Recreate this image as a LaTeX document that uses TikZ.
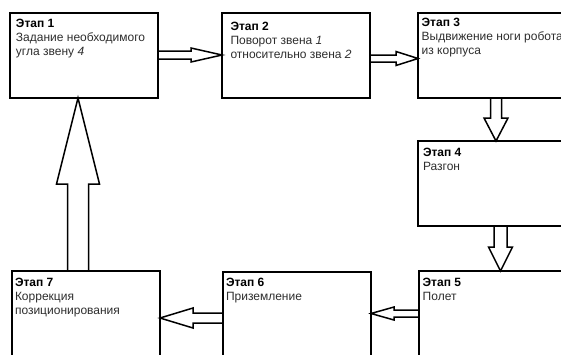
\documentclass[tikz,border=0pt]{standalone}
\usepackage{fontspec}
\setmainfont{Liberation Sans}
\usetikzlibrary{calc}
\newcommand\topstrut{\rule{0pt}{9pt}}
\newcommand\blockarr[5]{%
  \coordinate (H) at ($(#2)!#5!(#1)$);
  \draw[barrow] ($(#1)!#3!90:(#2)$) -- ($(H)!#3!-90:(#1)$) -- ($(H)!#4!-90:(#1)$)
    -- (#2) -- ($(H)!#4!90:(#1)$) -- ($(H)!#3!90:(#1)$) -- ($(#1)!#3!-90:(#2)$);
}
\begin{document}
\begin{tikzpicture}[x=1pt,y=-1pt,
  stagebox/.style={draw=black, line width=2pt, rectangle, minimum width=148pt,
    minimum height=85pt, inner sep=0pt, outer sep=0pt, anchor=north west},
  txt/.style={anchor=north west, inner sep=0pt, outer sep=0pt, align=left,
    font=\fontsize{12}{14}\selectfont, text=black!82},
  barrow/.style={draw=black, line width=1.5pt, line join=miter}]
\useasboundingbox (0,0) rectangle (561,354);
\clip (0,0) rectangle (561,354);
\fill[white] (0,0) rectangle (561,354);
\node[stagebox] (b1) at (10,13) {};
\node[stagebox] (b2) at (222,13) {};
\node[stagebox] (b3) at (418,13) {};
\node[stagebox] (b4) at (418,141) {};
\node[stagebox] (b5) at (419,271) {};
\node[stagebox] (b6) at (223,272) {};
\node[stagebox] (b7) at (12,271) {};
\node[txt] (t1) at ($(b1.north west)+(6,5.3)$) {\textcolor{black}{\textbf{Этап 1}}\topstrut\\Задание необходимого\\угла звену \textit{4}};
\node[txt] (t2) at ($(b2.north west)+(8.5,8.7)$) {\textcolor{black}{\textbf{Этап 2}}\topstrut\\Поворот звена \textit{1}\\относительно звена \textit{2}};
\node[txt] (t3) at ($(b3.north west)+(3.7,4.7)$) {\textcolor{black}{\textbf{Этап 3}}\topstrut\\Выдвижение ноги робота\\из корпуса};
\node[txt] (t4) at ($(b4.north west)+(5,6.7)$) {\textcolor{black}{\textbf{Этап 4}}\topstrut\\Разгон};
\node[txt] (t5) at ($(b5.north west)+(3.7,6.7)$) {\textcolor{black}{\textbf{Этап 5}}\topstrut\\Полет};
\node[txt] (t6) at ($(b6.north west)+(3,5.7)$) {\textcolor{black}{\textbf{Этап 6}}\topstrut\\Приземление};
\node[txt] (t7) at ($(b7.north west)+(3,6.7)$) {\textcolor{black}{\textbf{Этап 7}}\topstrut\\Коррекция\\позиционирования};
% arrows
\coordinate (a12s) at ($(b1.north east)+(0,42)$);
\coordinate (a12e) at (a12s -| b2.west);
\blockarr{a12s}{a12e}{4pt}{7pt}{31pt}
\coordinate (a23s) at ($(b2.north east)+(0,45.5)$);
\coordinate (a23e) at (a23s -| b3.west);
\blockarr{a23s}{a23e}{3.5pt}{7pt}{22pt}
\coordinate (a34s) at ($(b3.south west)+(78,0)$);
\coordinate (a34e) at (a34s |- b4.north);
\blockarr{a34s}{a34e}{5.5pt}{12pt}{23pt}
\coordinate (a45s) at ($(b4.south west)+(82.5,0)$);
\coordinate (a45e) at (a45s |- b5.north);
\blockarr{a45s}{a45e}{6.5pt}{12pt}{24pt}
\coordinate (a56s) at ($(b5.north west)+(0,42.5)$);
\coordinate (a56e) at (a56s -| b6.east);
\blockarr{a56s}{a56e}{3.5pt}{6.5pt}{23pt}
\coordinate (a67s) at ($(b6.north west)+(0,46)$);
\coordinate (a67e) at (a67s -| b7.east);
\blockarr{a67s}{a67e}{5pt}{10pt}{33pt}
\coordinate (a71s) at ($(b7.north west)+(66,0)$);
\coordinate (a71e) at (a71s |- b1.south);
\blockarr{a71s}{a71e}{10.5pt}{21.5pt}{86pt}
\end{tikzpicture}
\end{document}
